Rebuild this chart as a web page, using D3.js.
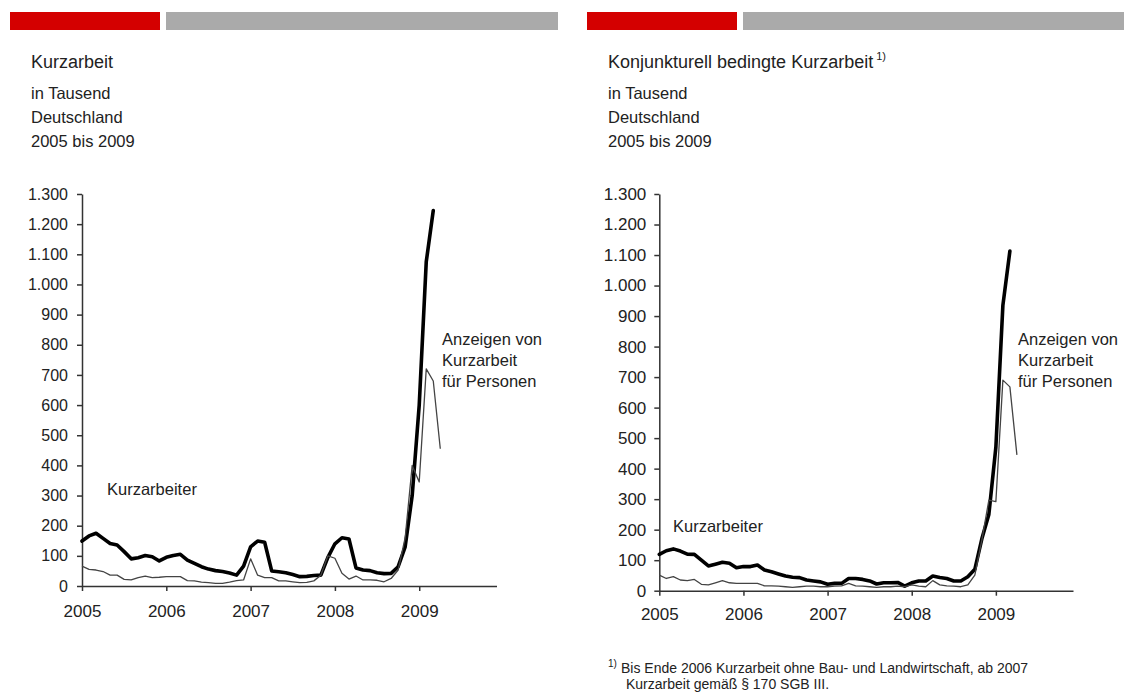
<!DOCTYPE html>
<html>
<head>
<meta charset="utf-8">
<script src="https://cdn.jsdelivr.net/npm/d3@7"></script>
<style>
  html, body { margin: 0; padding: 0; background: #fff; }
  svg { display: block; font-family: "Liberation Sans", Arial, sans-serif; }
</style>
</head>
<body>
<svg id="chart" width="1124" height="693"></svg>
<script>
// ---------- data (thousands, monthly from Jan 2005) ----------
const yearLabels = ["2005", "2006", "2007", "2008", "2009"];
const yearTickMonths = [0, 12, 24, 36, 48];
const yTicks = [0, 100, 200, 300, 400, 500, 600, 700, 800, 900, 1000, 1100, 1200, 1300];

// Left chart: Kurzarbeit (all)
const kurzarbeiterLeft = [149, 166, 175, 158, 141, 136, 114, 90, 94, 101, 97, 83,
  95, 101, 105, 86, 75, 64, 56, 51, 48, 43, 36, 66,
  130, 149, 145, 50, 47, 44, 38, 31, 32, 35, 36, 95,
  140, 160, 156, 60, 53, 51, 44, 41, 42, 64, 130, 300,
  600, 1075, 1245];
const anzeigenLeft = [66, 55, 53, 48, 36, 36, 22, 20, 28, 33, 28, 29,
  31, 31, 31, 18, 17, 13, 11, 9, 9, 13, 18, 20,
  90, 36, 28, 28, 17, 17, 14, 11, 12, 17, 36, 100,
  92, 42, 23, 33, 20, 20, 19, 14, 25, 53, 160, 400,
  345, 720, 680, 455];

// Right chart: konjunkturell bedingte Kurzarbeit
const kurzarbeiterRight = [119, 131, 137, 130, 120, 119, 100, 81, 87, 93, 90, 75,
  79, 79, 84, 68, 62, 55, 48, 44, 43, 35, 32, 29,
  21, 24, 24, 40, 40, 37, 32, 22, 26, 26, 27, 15,
  26, 32, 32, 48, 43, 40, 32, 32, 46, 70, 170, 250,
  470, 935, 1113];
const anzeigenRight = [51, 40, 46, 35, 33, 37, 21, 19, 26, 33, 26, 24,
  24, 24, 24, 16, 16, 15, 13, 11, 13, 15, 15, 13,
  13, 15, 16, 24, 16, 15, 13, 11, 13, 13, 15, 13,
  19, 15, 13, 33, 19, 16, 15, 13, 19, 51, 166, 297,
  292, 690, 668, 445];

// ---------- drawing ----------
const svg = d3.select("#chart");
const de = d3.formatLocale({decimal: ",", thousands: ".", grouping: [3], currency: ["", " €"]});
const fmt = de.format(",");
const textColor = "#222";

function header(x0, redW, grayEnd, tx, title, sup) {
  svg.append("rect").attr("x", x0).attr("y", 12).attr("width", redW).attr("height", 18).attr("fill", "#d40000");
  svg.append("rect").attr("x", x0 + redW + 6).attr("y", 12).attr("width", grayEnd - (x0 + redW + 6)).attr("height", 18).attr("fill", "#aaaaaa");
  const t = svg.append("text").attr("x", tx).attr("y", 68).attr("font-size", 18).attr("fill", textColor).text(title);
  if (sup) {
    t.append("tspan").attr("font-size", 11).attr("dy", -8).text(" " + sup);
  }
  ["in Tausend", "Deutschland", "2005 bis 2009"].forEach((s, i) => {
    svg.append("text").attr("x", tx).attr("y", 99 + i * 24).attr("font-size", 16.5).attr("fill", textColor).text(s);
  });
}

function panel(cfg) {
  const x = d3.scaleLinear().domain([0, 59]).range([cfg.left, cfg.right]);
  const y = d3.scaleLinear().domain([0, 1300]).range([cfg.bottom, cfg.top]);
  const g = svg.append("g");

  const yAxis = d3.axisLeft(y).tickValues(yTicks).tickFormat(fmt).tickSize(5).tickSizeOuter(0).tickPadding(cfg.yPad);
  const ya = g.append("g").attr("transform", `translate(${cfg.left},0)`).call(yAxis);
  ya.selectAll("text").attr("font-size", cfg.yFont).attr("fill", textColor).attr("font-family", "Liberation Sans, Arial, sans-serif");

  const xAxis = d3.axisBottom(x).tickValues(yearTickMonths).tickFormat((d, i) => yearLabels[i]).tickSize(5).tickSizeOuter(0).tickPadding(cfg.xPad);
  const xa = g.append("g").attr("transform", `translate(0,${cfg.bottom})`).call(xAxis);
  xa.selectAll("text").attr("font-size", 17).attr("fill", textColor).attr("font-family", "Liberation Sans, Arial, sans-serif");

  [ya, xa].forEach(a => {
    a.select(".domain").attr("stroke", "#333").attr("stroke-width", 1.5);
    a.selectAll(".tick line").attr("stroke", "#333").attr("stroke-width", 1.5);
  });

  const line = d3.line().x((d, i) => x(i)).y(d => y(d));
  g.append("path").datum(cfg.thick).attr("d", line).attr("fill", "none")
    .attr("stroke", "#000").attr("stroke-width", 3.6).attr("stroke-linejoin", "round").attr("stroke-linecap", "round");
  g.append("path").datum(cfg.thin).attr("d", line).attr("fill", "none")
    .attr("stroke", "#444").attr("stroke-width", 1.3).attr("stroke-linejoin", "round");

  g.append("text").attr("x", cfg.kx).attr("y", cfg.ky).attr("font-size", 16.5).attr("fill", textColor).text("Kurzarbeiter");
  ["Anzeigen von", "Kurzarbeit", "für Personen"].forEach((s, i) => {
    g.append("text").attr("x", cfg.ax).attr("y", 345 + i * 21).attr("font-size", 16.5).attr("fill", textColor).text(s);
  });
}

header(10, 150, 558, 31, "Kurzarbeit", null);
header(587, 150, 1124, 608, "Konjunkturell bedingte Kurzarbeit", "1)");

panel({left: 82, right: 496.5, top: 194, bottom: 586, yPad: 9, xPad: 14, yFont: 16,
  thick: kurzarbeiterLeft, thin: anzeigenLeft, kx: 107, ky: 495, ax: 442});
panel({left: 659.3, right: 1073, top: 194, bottom: 590.7, yPad: 8, xPad: 12, yFont: 17,
  thick: kurzarbeiterRight, thin: anzeigenRight, kx: 673, ky: 532, ax: 1018});

// footnote
svg.append("text").attr("x", 608).attr("y", 667).attr("font-size", 10).attr("fill", textColor).text("1)");
svg.append("text").attr("x", 621).attr("y", 673).attr("font-size", 14).attr("fill", textColor)
  .text("Bis Ende 2006 Kurzarbeit ohne Bau- und Landwirtschaft, ab 2007");
svg.append("text").attr("x", 626).attr("y", 689).attr("font-size", 14).attr("fill", textColor)
  .text("Kurzarbeit gemäß § 170 SGB III.");
</script>
</body>
</html>
